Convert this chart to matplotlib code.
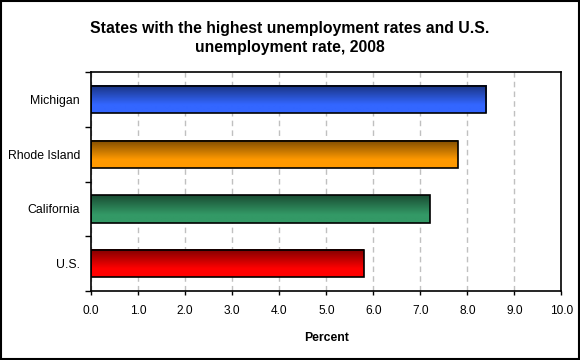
import numpy as np
import matplotlib
matplotlib.use("Agg")
import matplotlib.pyplot as plt
from matplotlib.colors import to_rgb
from matplotlib.patches import Rectangle

plt.rcParams['font.family'] = ['Liberation Sans', 'DejaVu Sans']

# data
states = ["Michigan", "Rhode Island", "California", "U.S."]
rates = [8.4, 7.8, 7.2, 5.8]
bar_colors = ["#3366ff", "#ff9900", "#339966", "#ff0000"]
xticks = [0, 1, 2, 3, 4, 5, 6, 7, 8, 9, 10]

fig = plt.figure(figsize=(5.8, 3.6), dpi=100)
ax = fig.add_axes([0.157, 0.192, 0.811, 0.607])

h = 0.5
pos = np.arange(len(states))


def gradient(color, n=64):
    c = np.array(to_rgb(color))
    dark = c * 0.5
    t = np.clip(np.linspace(0, 1, n) / 0.7, 0, 1)[:, None]
    return (dark + (c - dark) * t)[:, None, :]


for y, v, c in zip(pos, rates, bar_colors):
    ax.imshow(gradient(c), extent=(0, v, y + h / 2, y - h / 2),
              origin='upper', aspect='auto', zorder=2, interpolation='bilinear')
    ax.add_patch(Rectangle((0, y - h / 2), v, h, fill=False,
                           edgecolor='black', linewidth=1.2, zorder=3))

ax.set_xlim(0, 10)
ax.set_ylim(len(states) - 0.5, -0.5)

ax.set_xticks(xticks)
ax.set_xticklabels([f"{t:.1f}" for t in xticks], fontsize=8.6)
ax.set_yticks(pos)
ax.set_yticklabels(states, fontsize=8.8)
ax.set_yticks(np.arange(len(states) + 1) - 0.5, minor=True)
ax.tick_params(axis='y', which='major', length=0, pad=8)
ax.tick_params(axis='y', which='minor', length=4, width=1, direction='out')
ax.tick_params(axis='x', length=3, width=1, direction='out', pad=7)

ax.grid(axis='x', color='#c0c0c0', linestyle=(0, (4, 3)), linewidth=1, zorder=0)
ax.set_axisbelow(True)
for s in ax.spines.values():
    s.set_linewidth(1.2)

ax.set_xlabel("Percent", fontsize=8.8, fontweight='bold', labelpad=11)
fig.text(0.5, 0.894, "States with the highest unemployment rates and U.S.\nunemployment rate, 2008",
         ha='center', va='center', fontsize=11.3, fontweight='bold', linespacing=1.35)

fig.patches.append(Rectangle((0.001, 0.002), 0.997, 0.996, transform=fig.transFigure,
                             fill=False, edgecolor='black', linewidth=1.5))

fig.savefig("out.png", dpi=100)
